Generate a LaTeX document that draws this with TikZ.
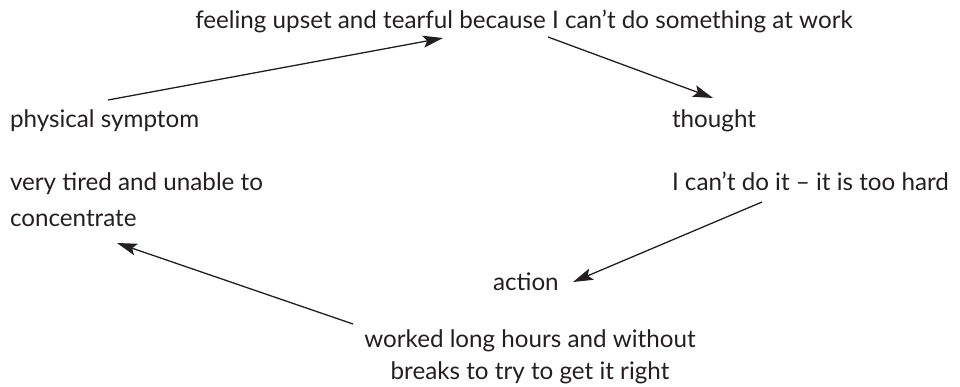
\documentclass[tikz,border=0pt]{standalone}
\usepackage{fontspec}
\setmainfont{Lato}
\usetikzlibrary{arrows.meta}
\definecolor{ink}{HTML}{231F20}
\begin{document}
\begin{tikzpicture}[x=1pt,y=-1pt,
  lbl/.style={inner sep=0pt,outer sep=0pt,text=ink,font=\fontsize{24.2pt}{34pt}\selectfont},
  arr/.style={draw=ink,line width=1.3pt,-{Stealth[length=20pt,width=12pt,inset=4pt]}}]
\useasboundingbox (0,0) rectangle (960,386);
\node[lbl,anchor=base] (top) at (524,28) {feeling upset and tearful because I can’t do something at work};
\node[lbl,anchor=base west] (phys) at (10,127) {physical symptom};
\node[lbl,anchor=base west] (thought) at (672,127) {thought};
\node[lbl,anchor=base west] (tired) at (10,190) {very tired and unable to};
\node[lbl,anchor=base west] (conc) at (10,226) {concentrate};
\node[lbl,anchor=base west] (cant) at (672,190) {I can’t do it – it is too hard};
\node[lbl,anchor=base west] (action) at (493,290) {action};
\node[lbl,anchor=base] (worked) at (530,347) {worked long hours and without};
\node[lbl,anchor=base] (breaks) at (530,379) {breaks to try to get it right};
\draw[arr] ([shift={(98,-27)}]phys.base west) -- ([shift={(-81,10)}]top.base);
\draw[arr] ([shift={(24,9)}]top.base) -- ([shift={(41,-29)}]thought.base west);
\draw[arr] ([shift={(90,12)}]cant.base west) -- ([shift={(80,-8)}]action.base west);
\draw[arr] ([shift={(-177,-23)}]worked.base) -- ([shift={(107,17)}]conc.base west);
\end{tikzpicture}
\end{document}
